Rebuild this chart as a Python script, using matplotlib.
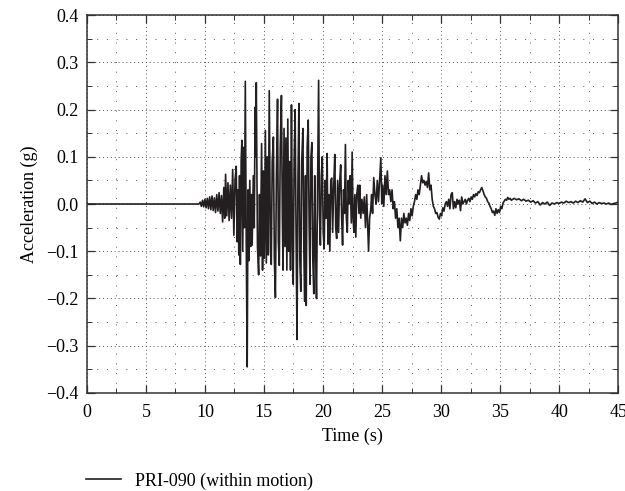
import matplotlib
matplotlib.use("Agg")
import matplotlib.pyplot as plt
from matplotlib.ticker import MultipleLocator

# (time s, acceleration g), segment by segment
quiet = [(0.0, 0.0), (9.5, 0.0)]

onset = [
    (9.6, 0.004), (9.7, -0.005), (9.8, 0.008), (9.9, -0.006), (10.0, 0.010),
    (10.1, -0.008), (10.2, 0.012), (10.3, -0.010), (10.4, 0.015), (10.5, -0.012),
    (10.6, 0.017), (10.7, -0.014), (10.8, 0.013), (10.9, -0.018), (11.0, 0.020),
    (11.1, -0.015), (11.2, 0.024), (11.3, -0.020), (11.4, 0.018), (11.5, -0.038),
    (11.6, 0.035), (11.68, -0.030), (11.75, 0.063), (11.85, -0.025), (11.95, 0.045),
    (12.05, -0.035), (12.15, 0.040), (12.25, -0.030), (12.35, 0.073), (12.45, -0.066),
    (12.55, 0.050), (12.65, 0.080), (12.72, -0.080), (12.80, 0.030), (12.87, -0.108),
    (12.93, 0.060), (13.00, -0.128), (13.07, 0.094), (13.13, 0.135), (13.20, -0.100),
    (13.28, 0.120), (13.35, -0.050),
]

strong = [
    (13.42, 0.260), (13.50, -0.080), (13.58, -0.345), (13.65, 0.030), (13.72, -0.120),
    (13.80, 0.050), (13.88, -0.090), (13.95, 0.020), (14.00, -0.087), (14.10, 0.060),
    (14.18, -0.050), (14.25, 0.205), (14.30, 0.100), (14.35, 0.257), (14.45, -0.090),
    (14.55, -0.150), (14.62, 0.020), (14.70, -0.110), (14.80, 0.128), (14.88, -0.140),
    (14.95, 0.070), (15.03, -0.115), (15.12, 0.156), (15.20, -0.125), (15.28, 0.100),
    (15.36, -0.108), (15.45, 0.240), (15.55, -0.100), (15.62, -0.128), (15.70, 0.090),
    (15.80, 0.142), (15.88, -0.115), (15.97, -0.198), (16.05, 0.050), (16.15, 0.222),
    (16.22, -0.080), (16.30, -0.130), (16.38, 0.120), (16.48, 0.230), (16.56, -0.030),
    (16.62, -0.140), (16.70, 0.160), (16.78, -0.090), (16.86, 0.140), (16.94, -0.140),
    (17.02, 0.180), (17.10, -0.100), (17.18, 0.090), (17.25, -0.140), (17.33, 0.210),
    (17.40, -0.050), (17.48, -0.170), (17.56, 0.100), (17.64, 0.200), (17.72, -0.060),
    (17.80, -0.287), (17.88, 0.050), (17.96, 0.213), (18.04, -0.120), (18.12, -0.185),
    (18.20, 0.090), (18.30, 0.160), (18.38, -0.100), (18.45, -0.206), (18.52, 0.060),
    (18.58, -0.215), (18.66, 0.120), (18.75, 0.178), (18.83, -0.050), (18.90, -0.170),
    (18.98, 0.100), (19.06, 0.130), (19.14, -0.120), (19.22, -0.190), (19.30, 0.060),
    (19.38, -0.100), (19.45, -0.200), (19.55, 0.050), (19.63, 0.262), (19.70, -0.020),
    (19.78, -0.087), (19.86, 0.060), (19.94, 0.100), (20.02, -0.060), (20.10, -0.095),
    (20.18, 0.050), (20.26, -0.030), (20.35, 0.107), (20.42, -0.085), (20.50, 0.020),
    (20.58, -0.100), (20.66, 0.050), (20.74, 0.055), (20.82, -0.060), (20.90, 0.030),
    (21.00, 0.105), (21.08, -0.050), (21.16, -0.073), (21.24, 0.050), (21.32, -0.060),
    (21.40, 0.040), (21.50, 0.083), (21.58, -0.030), (21.66, -0.087), (21.74, 0.030),
    (21.82, -0.020), (21.90, 0.126), (21.98, -0.030), (22.06, -0.060), (22.14, 0.050),
    (22.22, 0.000), (22.30, 0.060), (22.40, -0.040), (22.47, 0.110), (22.55, -0.030),
    (22.62, -0.060), (22.70, 0.020), (22.78, -0.070), (22.86, 0.020), (22.95, 0.040),
]

coda = [
    (23.05, -0.020), (23.12, 0.040), (23.20, -0.030), (23.30, 0.010), (23.40, -0.020),
    (23.50, 0.015), (23.60, -0.050), (23.70, 0.020), (23.78, -0.040), (23.86, -0.100),
    (23.95, -0.030), (24.05, -0.010), (24.12, 0.020), (24.20, -0.020), (24.30, 0.056),
    (24.40, 0.020), (24.50, 0.000), (24.60, 0.050), (24.70, 0.005), (24.90, 0.098),
    (24.98, 0.000), (25.05, 0.040), (25.15, -0.005), (25.25, 0.060), (25.35, 0.020),
    (25.45, 0.070), (25.55, 0.020), (25.65, 0.030), (25.75, 0.005), (25.85, 0.030),
    (25.95, -0.010), (26.05, 0.005), (26.15, -0.030), (26.25, -0.010), (26.35, -0.050),
    (26.45, -0.030), (26.55, -0.078), (26.65, -0.030), (26.75, -0.050), (26.85, -0.020),
    (26.95, -0.040), (27.05, -0.030), (27.15, -0.045), (27.25, -0.020), (27.35, -0.035),
    (27.45, -0.010), (27.55, -0.025), (27.65, -0.005), (27.75, 0.005), (27.85, 0.020),
    (27.95, 0.010), (28.05, 0.030), (28.15, 0.020), (28.25, 0.040), (28.35, 0.060),
    (28.45, 0.045), (28.55, 0.050), (28.65, 0.040), (28.75, 0.048), (28.85, 0.035),
    (28.95, 0.066), (29.05, 0.030), (29.15, 0.040), (29.25, 0.010), (29.35, -0.005),
    (29.45, -0.010), (29.55, -0.020), (29.65, -0.018), (29.75, -0.028), (29.85, -0.032),
    (29.95, -0.020), (30.05, -0.025), (30.15, -0.008), (30.25, -0.015), (30.35, 0.000),
    (30.45, 0.005), (30.55, -0.005), (30.65, 0.010), (30.75, -0.010), (30.85, 0.020),
    (30.95, 0.024), (31.05, -0.010), (31.15, 0.005), (31.25, -0.008), (31.35, 0.010),
    (31.45, 0.000), (31.55, 0.008), (31.65, -0.014), (31.75, 0.015), (31.85, 0.000),
    (31.95, 0.005), (32.05, 0.010), (32.15, 0.000), (32.25, 0.008), (32.35, 0.012),
    (32.45, 0.005), (32.55, 0.015), (32.65, 0.010), (32.75, 0.020), (32.85, 0.015),
    (32.95, 0.022), (33.05, 0.018), (33.15, 0.026), (33.25, 0.024), (33.35, 0.030),
    (33.45, 0.035), (33.55, 0.028), (33.65, 0.020), (33.75, 0.015), (33.85, 0.012),
    (33.95, 0.005), (34.05, 0.002), (34.15, -0.005), (34.25, -0.010), (34.35, -0.018),
    (34.45, -0.015), (34.55, -0.024), (34.65, -0.010), (34.75, -0.020), (34.85, -0.012),
    (34.95, -0.018), (35.05, -0.005), (35.15, -0.010), (35.25, 0.002), (35.35, 0.006),
    (35.45, 0.010), (35.55, 0.008), (35.65, 0.014), (35.75, 0.010), (35.85, 0.012),
    (35.95, 0.008),
]

tail = [
    (36.2, 0.012), (36.4, 0.009), (36.6, 0.011), (36.8, 0.007), (37.0, 0.010),
    (37.2, 0.006), (37.4, 0.008), (37.6, 0.004), (37.8, 0.007), (38.0, 0.002),
    (38.2, 0.005), (38.4, -0.002), (38.6, 0.003), (38.8, 0.000), (39.0, 0.004),
    (39.2, -0.003), (39.4, 0.002), (39.6, 0.000), (39.8, 0.003), (40.0, 0.001),
    (40.2, 0.004), (40.4, 0.002), (40.6, 0.006), (40.8, 0.003), (41.0, 0.005),
    (41.2, 0.002), (41.4, 0.006), (41.6, 0.003), (41.8, 0.007), (42.0, 0.004),
    (42.2, 0.011), (42.4, 0.003), (42.6, 0.006), (42.8, 0.001), (43.0, 0.004),
    (43.2, 0.000), (43.4, 0.003), (43.6, 0.001), (43.8, 0.002), (44.0, 0.000),
    (44.2, 0.002), (44.4, -0.001), (44.6, 0.001), (44.8, 0.002), (45.0, 0.004),
]

record = quiet + onset + strong + coda + tail
time = [p[0] for p in record]
acc = [p[1] for p in record]

plt.rcParams['font.family'] = ['Liberation Serif', 'DejaVu Serif']
plt.rcParams['font.size'] = 13

fig = plt.figure(figsize=(6.25, 4.91), dpi=100)
ax = fig.add_axes([0.139, 0.2, 0.850, 0.769])

line, = ax.plot(time, acc, color='#231f20', lw=1.2, label='PRI-090 (within motion)')

ax.set_xlim(0, 45)
ax.set_ylim(-0.4, 0.4)
ax.xaxis.set_major_locator(MultipleLocator(5))
ax.xaxis.set_minor_locator(MultipleLocator(2.5))
ax.yaxis.set_major_locator(MultipleLocator(0.1))
ax.yaxis.set_minor_locator(MultipleLocator(0.05))
ax.yaxis.set_major_formatter(lambda v, pos: '{:.1f}'.format(v).replace('-', '\u2212'))

ax.tick_params(which='both', direction='in', top=True, right=True, color='#333333')
ax.tick_params(which='major', length=6, width=0.9, pad=6)
ax.tick_params(axis='x', which='major', pad=8)
ax.tick_params(which='minor', length=3.5, width=0.7)

ax.grid(which='major', color='#555555', lw=0.7, linestyle=(0, (1, 3)))
ax.grid(which='minor', color='#555555', lw=0.7, linestyle=(0, (1, 9)))
ax.set_axisbelow(True)

for s in ax.spines.values():
    s.set_color('#333333')
    s.set_linewidth(1.1)

ax.set_xlabel('Time (s)', labelpad=5)
ax.set_ylabel('Acceleration (g)', labelpad=6)

fig.legend(handles=[line], loc='center left', bbox_to_anchor=(0.112, 0.02),
           frameon=False, handlelength=1.9, handletextpad=0.8, fontsize=13)

fig.savefig('out.png', dpi=100)
